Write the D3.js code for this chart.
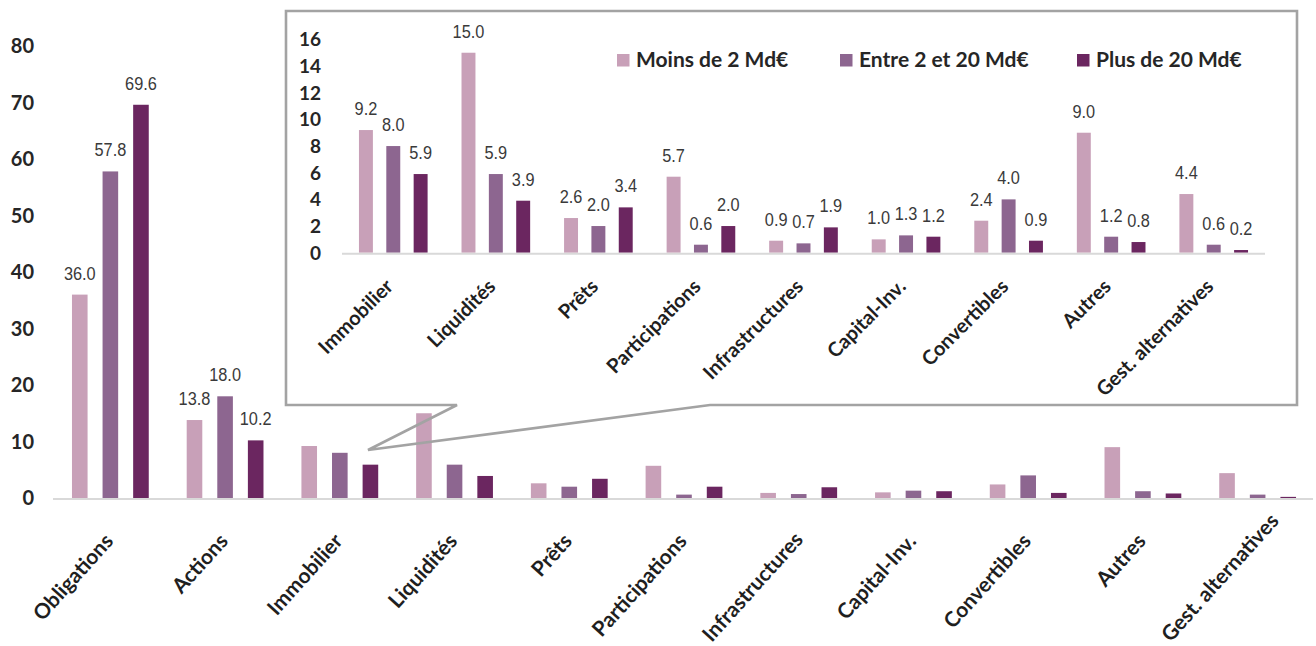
<!DOCTYPE html>
<html>
<head>
<meta charset="utf-8">
<script src="https://cdn.jsdelivr.net/npm/d3@7/dist/d3.min.js"></script>
<style>
  html, body { margin: 0; padding: 0; background: #fff; }
  svg { display: block; }
  .tick-lbl { font-family: Lato, "Open Sans", sans-serif; font-weight: 700; fill: #262626; }
  .cat-lbl { font-family: Lato, "Open Sans", sans-serif; font-weight: 700; fill: #1f1f1f; }
  .val-lbl { font-family: "Liberation Sans", Arial, sans-serif; fill: #3a3a3a; }
  .leg-lbl { font-family: Lato, "Open Sans", sans-serif; font-weight: 700; fill: #262626; }
</style>
</head>
<body>
<script>
// Asset classes
const categories = ["Obligations", "Actions", "Immobilier", "Liquidités", "Prêts", "Participations",
  "Infrastructures", "Capital-Inv.", "Convertibles", "Autres", "Gest. alternatives"];
// Series, by size of the institution
const seriesNames = ["Moins de 2 Md€", "Entre 2 et 20 Md€", "Plus de 20 Md€"];
const moinsDe2 = [36.0, 13.8, 9.2, 15.0, 2.6, 5.7, 0.9, 1.0, 2.4, 9.0, 4.4];
const entre2et20 = [57.8, 18.0, 8.0, 5.9, 2.0, 0.6, 0.7, 1.3, 4.0, 1.2, 0.6];
const plusDe20 = [69.6, 10.2, 5.9, 3.9, 3.4, 2.0, 1.9, 1.2, 0.9, 0.8, 0.2];
// Axis ticks
const mainTicks = [0, 10, 20, 30, 40, 50, 60, 70, 80];
const insetTicks = [0, 2, 4, 6, 8, 10, 12, 14, 16];
// Categories repeated in the zoomed panel
const insetCategories = categories.slice(2);

const colors = ["#C8A0B8", "#8D6690", "#6B2660"];
const seriesValues = [moinsDe2, entre2et20, plusDe20];

const rows = categories.map((c, i) => ({
  cat: c,
  vals: seriesNames.map((s, k) => ({ s, k, v: seriesValues[k][i] }))
}));

const W = 1316, H = 646;
const svg = d3.select("body").append("svg").attr("width", W).attr("height", H);

// condensed number labels (narrow sans look)
const VAL_SIZE = "19px", VAL_SQUEEZE = 0.86;
function valueLabels(sel, xs, ys) {
  sel.attr("class", "val-lbl val")
    .attr("text-anchor", "middle")
    .attr("transform", d => `translate(${xs(d)},${ys(d)}) scale(${VAL_SQUEEZE},1)`)
    .style("font-size", VAL_SIZE)
    .text(d => d.v.toFixed(1));
}

// rotated category labels, slid up along their own direction when they would run off the bottom
function rotatedLabels(sel, xOf, baseY, angle, bottomLimit) {
  const rad = angle * Math.PI / 180;
  sel.each(function (d) {
    const t = d3.select(this);
    const len = this.getComputedTextLength();
    const over = Math.max(0, baseY + len * Math.sin(rad) - bottomLimit);
    const ax = xOf(d) + over * Math.cos(rad) / Math.sin(rad);
    const ay = baseY - over;
    t.attr("transform", `translate(${ax},${ay}) rotate(${-angle})`);
  });
}

// ---------- main chart ----------
const x0 = d3.scaleBand().domain(categories).range([53, 1315]);
const x1 = d3.scaleBand().domain(seriesNames)
  .range([-0.4 * x0.step(), 0.4 * x0.step()]).paddingInner(0.49).paddingOuter(0.245);
const y = d3.scaleLinear().domain([0, 80]).range([498, 46]);

const main = svg.append("g");

main.selectAll(".ytick").data(mainTicks).join("text")
  .attr("class", "tick-lbl")
  .attr("x", 34).attr("y", d => y(d))
  .attr("dy", "0.36em").attr("text-anchor", "end")
  .style("font-size", "20px").text(d => d);

const mg = main.selectAll(".grp").data(rows).join("g")
  .attr("transform", d => `translate(${x0(d.cat) + x0.step() / 2},0)`);

mg.selectAll("rect").data(d => d.vals).join("rect")
  .attr("x", d => x1(d.s)).attr("width", x1.bandwidth())
  .attr("y", d => y(d.v)).attr("height", d => y(0) - y(d.v))
  .attr("fill", d => colors[d.k]);

// values only for the two large classes; the rest are shown in the zoomed panel
mg.filter((d, i) => i < 2).selectAll("text.val").data(d => d.vals).join("text")
  .call(valueLabels, d => x1(d.s) + x1.bandwidth() / 2, d => y(d.v) - 15);

main.append("line")
  .attr("x1", 53).attr("x2", 1313).attr("y1", y(0) + 1).attr("y2", y(0) + 1)
  .attr("stroke", "#D9D9D9").attr("stroke-width", 2);

main.selectAll(".xlbl").data(categories).join("text")
  .attr("class", "cat-lbl")
  .attr("text-anchor", "end")
  .style("font-size", "21px")
  .text(d => d)
  .call(rotatedLabels, d => x0(d) + x0.step() / 2 + 4, y(0) + 44, 48, 643);

// ---------- zoomed panel ----------
const box = { l: 286, t: 11, r: 1297, b: 405 };
const callout = { a: 457, tip: [368, 450], c: 710 };

svg.append("rect")
  .attr("x", box.l).attr("y", box.t)
  .attr("width", box.r - box.l).attr("height", box.b - box.t)
  .attr("fill", "#fff");

svg.append("path")
  .attr("d", `M${callout.a},${box.b} L${box.l},${box.b} L${box.l},${box.t} L${box.r},${box.t} L${box.r},${box.b} L${callout.c},${box.b} L${callout.tip[0]},${callout.tip[1]} Z`)
  .attr("fill", "none").attr("stroke", "#A3A3A3").attr("stroke-width", 2.6)
  .attr("stroke-linejoin", "miter");

const inset = svg.append("g");
const ix0 = d3.scaleBand().domain(insetCategories).range([342, 1265]);
const ix1 = d3.scaleBand().domain(seriesNames)
  .range([-0.4 * ix0.step(), 0.4 * ix0.step()]).paddingInner(0.49).paddingOuter(0.245);
const iy = d3.scaleLinear().domain([0, 16]).range([252.7, 39.4]);

inset.selectAll(".ytick").data(insetTicks).join("text")
  .attr("class", "tick-lbl")
  .attr("x", 321).attr("y", d => iy(d))
  .attr("dy", "0.36em").attr("text-anchor", "end")
  .style("font-size", "19px").text(d => d);

const ig = inset.selectAll(".grp").data(rows.slice(2)).join("g")
  .attr("transform", d => `translate(${ix0(d.cat) + ix0.step() / 2},0)`);

ig.selectAll("rect").data(d => d.vals).join("rect")
  .attr("x", d => ix1(d.s)).attr("width", ix1.bandwidth())
  .attr("y", d => iy(d.v)).attr("height", d => iy(0) - iy(d.v))
  .attr("fill", d => colors[d.k]);

ig.selectAll("text.val").data(d => d.vals).join("text")
  .call(valueLabels, d => ix1(d.s) + ix1.bandwidth() / 2, d => iy(d.v) - 15);

inset.append("line")
  .attr("x1", 342).attr("x2", 1265).attr("y1", iy(0) + 1).attr("y2", iy(0) + 1)
  .attr("stroke", "#D9D9D9").attr("stroke-width", 2);

inset.selectAll(".xlbl").data(insetCategories).join("text")
  .attr("class", "cat-lbl")
  .attr("text-anchor", "end")
  .attr("transform", d => `translate(${ix0(d) + ix0.step() / 2 + 1},${iy(0) + 35}) rotate(-45)`)
  .style("font-size", "20px")
  .text(d => d);

// legend
const legendX = [617, 840, 1077];
const leg = inset.selectAll(".leg").data(seriesNames).join("g")
  .attr("transform", (d, i) => `translate(${legendX[i]},54)`);
leg.append("rect").attr("width", 12.5).attr("height", 12.5).attr("fill", (d, i) => colors[i]);
leg.append("text").attr("class", "leg-lbl")
  .attr("x", 19).attr("y", 13)
  .style("font-size", "21px").text(d => d);
</script>
</body>
</html>
